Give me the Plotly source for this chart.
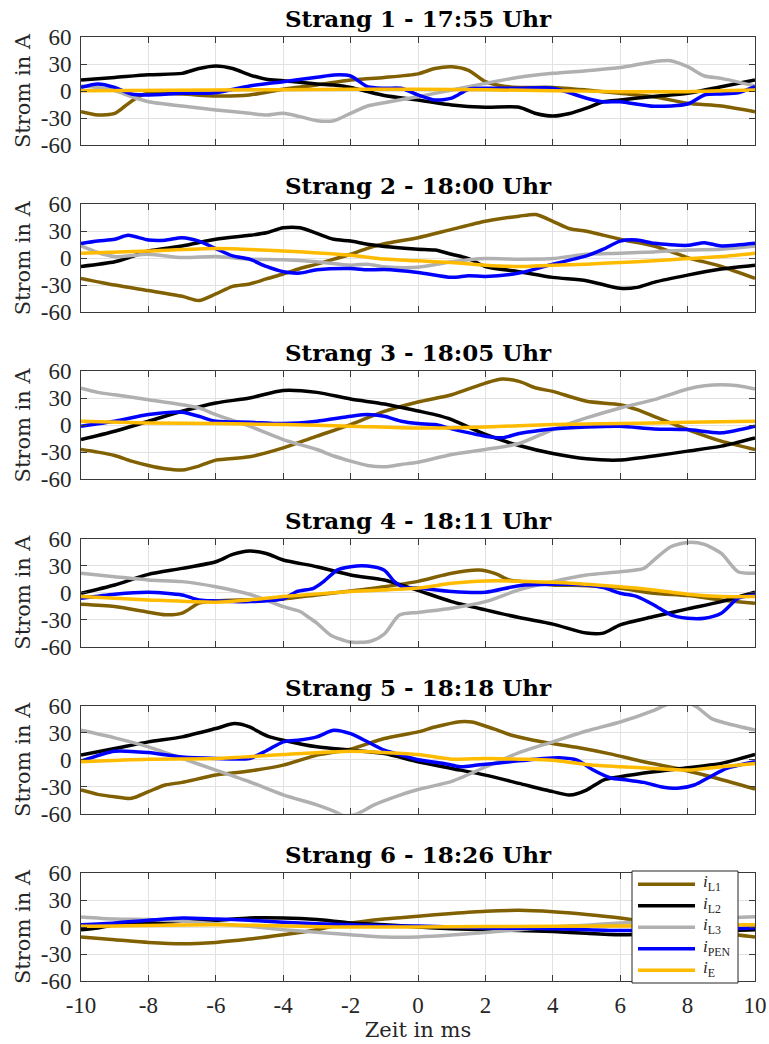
import plotly.graph_objects as go
from plotly.subplots import make_subplots

# Strang currents, samples as (time in ms, current in A)
S1_L1 = [(-10, -23), (-9.5, -26.7), (-9, -24.8), (-8.7, -17), (-8.3, -6.3), (-8, -2.6), (-7, -3.3),
         (-6, -5.6), (-5, -4.4), (-4, 1.9), (-3, 6.7), (-2, 12.2), (-1, 15), (0, 19), (0.5, 25),
         (1, 27), (1.5, 23), (2, 10.4), (2.5, 5.6), (3, 4), (4, 4), (5, 1.1), (6, -2.6), (7, -6.3),
         (8, -13.7), (9, -16.7), (10, -23)]
S1_L2 = [(-10, 12.2), (-9, 15), (-8, 18), (-7, 19.6), (-6.5, 25), (-6, 27.8), (-5.5, 25), (-5, 18),
         (-4.5, 13), (-4, 11.5), (-3, 7.8), (-2.5, 6.7), (-2, 4), (-1.5, -0.7), (-1, -5), (0, -10),
         (1, -15.5), (2, -18), (3, -18), (3.5, -25), (4, -27.8), (4.5, -25), (5, -19), (5.5, -12),
         (6, -10), (7, -6), (8, -2.6), (9, 4.8), (10, 12.2)]
S1_L3 = [(-10, 5.6), (-9.5, 4), (-9, 0.4), (-8.5, -6.3), (-8, -11.9), (-7, -16.7), (-6, -21), (-5, -24.8),
         (-4.5, -26.7), (-4, -24.8), (-3.5, -28.5), (-3, -33), (-2.5, -33), (-2, -24.8), (-1.5, -16.7),
         (-1, -13), (0, -6.3), (1, 1.1), (2, 8.5), (3, 15.2), (4, 19.6), (5, 22.6), (6, 26), (7, 32.6),
         (7.5, 33.7), (8, 27), (8.5, 16.7), (9, 14), (10, 5.6)]
S1_PEN = [(-10, 4), (-9.5, 7.8), (-9, 4), (-8.5, -3.3), (-8, -4.4), (-7, -2.6), (-6, -1.9), (-5, 5.6),
          (-4, 10.4), (-3, 15.2), (-2.5, 17.8), (-2, 16.7), (-1.5, 4.8), (-1, 3), (-0.5, 3), (0, -4.4),
          (0.5, -10), (1, -8), (1.5, 1.9), (2, 3), (3, 3), (4, 3), (5, -8), (5.5, -12), (6, -12),
          (7, -17), (8, -14.4), (8.5, -4.4), (9, -3.3), (9.5, -1.9), (10, 4.8)]
S1_E = [(-10, 0.4), (-6, 1), (-2, 2), (0, 2), (4, 0.4), (6, -0.7), (8, -0.7), (10, 1)]

S2_L1 = [(-10, -22.4), (-9, -29.8), (-8, -36), (-7, -42.3), (-6.5, -47), (-6, -39.7), (-5.5, -31.3),
         (-5, -28.7), (-4.5, -23), (-4, -17.6), (-3.5, -11.4), (-3, -6.6), (-2.5, -1.1), (-2, 4.4),
         (-1.5, 11), (-1, 16), (0, 22.8), (1, 32), (2, 41), (3, 46.7), (3.5, 48.5), (4, 41), (4.5, 32.7),
         (5, 30), (6, 21), (7, 13.6), (8, 0.7), (9, -9.2), (10, -22.4)]
S2_L2 = [(-10, -9.2), (-9, -4), (-8.5, 1.8), (-8, 8), (-7, 13.6), (-6, 21), (-5, 25.4), (-4.5, 28.3),
         (-4, 33.8), (-3.5, 33.8), (-3, 27.6), (-2.5, 21), (-2, 19), (-1.5, 15.4), (-1, 13), (0, 10),
         (0.5, 9), (1, 4.4), (1.5, -0.4), (2, -9.2), (3, -15), (4, -21.3), (5, -25), (6, -33.5),
         (6.5, -32.4), (7, -26.8), (8, -18.8), (9, -12), (10, -7.7)]
S2_L3 = [(-10, 13.6), (-9.5, 6.3), (-9, 1.8), (-8, 4.4), (-7, 0.7), (-6, 1.8), (-5, -1.1), (-4, -1.8),
         (-3, -4), (-2, -7.7), (-1.5, -6.6), (-1, -9.5), (0, -10), (1, -4), (2, -0.4), (3, -1.1),
         (4, -0.4), (5, 4.4), (6, 5.5), (7, 7), (8, 9.2), (9, 10), (10, 13.6)]
S2_PEN = [(-10, 16.2), (-9.5, 19), (-9, 21), (-8.6, 25.4), (-8, 20.2), (-7.5, 20), (-7, 22.8), (-6.5, 19),
          (-6, 10.7), (-5.5, 2.6), (-5, -1.1), (-4.5, -9.2), (-4, -15), (-3.5, -16.5), (-3, -12.9),
          (-2, -11.4), (-1.5, -12.9), (-1, -12.5), (0, -15.8), (1, -21.3), (1.5, -19.5), (2, -20.2),
          (3, -16.5), (4, -6.6), (5, 2.6), (5.5, 10), (6, 19), (6.5, 20.2), (7, 16.5), (8, 14.3),
          (8.5, 17.3), (9, 13.6), (10, 16.5)]
S2_E = [(-10, 5.5), (-8, 8), (-6, 10.7), (-4, 8), (-2, 3.3), (-1, -1), (0, -2.9), (1, -4.8), (2, -7.7),
        (3, -9.2), (4, -7.7), (5, -6.6), (6, -4.8), (7, -2.9), (8, -0.4), (9, 1.8), (10, 5.5)]

S3_L1 = [(-10, -26.8), (-9.5, -29.7), (-9, -33.4), (-8.5, -39.7), (-8, -44.5), (-7.5, -48.2), (-7, -49.6),
         (-6.5, -45.2), (-6, -38.6), (-5, -34.9), (-4, -24.9), (-3, -12), (-2, 0.9), (-1, 15.5), (0, 26),
         (1, 34.1), (2, 47), (2.5, 51.5), (3, 48.9), (3.5, 41.5), (4, 37.8), (5, 26.8), (6, 23),
         (6.5, 17.5), (7, 10), (8, -4.6), (9, -17.5), (10, -26.8)]
S3_L2 = [(-10, -15.7), (-9, -6.5), (-8, 4.6), (-7, 15.7), (-6, 24.9), (-5, 30.4), (-4, 38.9), (-3, 36.7),
         (-2, 29.3), (-1, 23.8), (0, 16), (0.5, 12), (1, 6.5), (2, -10.1), (3, -22.3), (4, -31.2),
         (5, -37.1), (6, -38.5), (7, -34), (8, -28.6), (9, -23), (10, -13.8)]
S3_L3 = [(-10, 41.3), (-9.5, 36.7), (-9, 34), (-8, 28.6), (-7, 23), (-6.5, 19.4), (-6, 12), (-5, -0.9),
         (-4, -15.7), (-3, -26.8), (-2.5, -34), (-2, -39.7), (-1.5, -44.5), (-1, -46), (-0.5, -43.4),
         (0, -41), (1, -32.3), (2, -26.8), (3, -20.1), (4, -4.6), (5, 8.3), (6, 19.4), (7, 28.6),
         (8, 40.4), (8.5, 44), (9, 45.2), (9.5, 44), (10, 40.4)]
S3_PEN = [(-10, -0.9), (-9, 4.6), (-8, 12), (-7, 14.6), (-6.5, 10.1), (-6, 4.6), (-5, 3.5), (-4, 2),
          (-3, 4.6), (-2, 10.1), (-1.5, 12), (-1, 10.1), (-0.5, 4.6), (0, 2), (0.5, 0.9), (1, -3.9),
          (2, -12), (2.5, -13.8), (3, -9), (4, -3.9), (5, -1.7), (6, -0.9), (7, -3.9), (8, -4.6),
          (9, -8.3), (10, -0.9)]
S3_E = [(-10, 4.6), (-8, 2.8), (-6, 2), (-4, 0.9), (-2, -0.9), (0, -3), (2, -1.7), (4, 0.9), (6, 2),
        (8, 3.5), (10, 4.6)]

S4_L1 = [(-10, -12.9), (-9, -15.5), (-8, -21.8), (-7.5, -24.7), (-7, -22.9), (-6.5, -11.8), (-6, -9.2),
         (-5, -8.1), (-4, -7), (-3, -2.6), (-2, 1.8), (-1, 6.6), (0, 12.5), (1, 21.4), (1.8, 25),
         (2.3, 21), (2.7, 14), (3, 12.5), (4, 8.5), (5, 7.7), (6, 4.8), (7, -0.7), (8, -3.3), (9, -8.1),
         (10, -11.8)]
S4_L2 = [(-10, -0.7), (-9, 8.5), (-8, 20.3), (-7, 26.9), (-6, 34.3), (-5.5, 42.4), (-5, 46.1),
         (-4.5, 43.5), (-4, 36.2), (-3, 28.8), (-2, 19.6), (-1, 14), (-0.5, 8.5), (0, 2.5), (1, -10),
         (2, -19.2), (3, -27.7), (4, -35), (5, -45), (5.5, -45), (6, -35.8), (7, -26.6), (8, -18.1),
         (9, -10), (10, 0.4)]
S4_L3 = [(-10, 21.4), (-9, 17.7), (-8, 14), (-7, 12.2), (-6, 6.6), (-5, -1.8), (-4, -15.5), (-3.5, -21),
         (-3.3, -26), (-3, -34), (-2.6, -47), (-2, -55), (-1.4, -54), (-1, -46), (-0.55, -25), (0, -22),
         (1, -17.3), (2, -10), (3, 3), (4, 12.2), (5, 19.6), (6, 23.2), (6.7, 27), (7, 36.2), (7.5, 51),
         (8, 55.7), (8.5, 53.5), (9, 43.5), (9.5, 23.2), (10, 21.4)]
S4_PEN = [(-10, -6.3), (-9, -1.8), (-8, 0.4), (-7, -2.6), (-6.5, -8.1), (-6, -9.2), (-5, -10), (-4, -7),
          (-3.6, 1.1), (-3.1, 4.8), (-2.8, 12.2), (-2.4, 25), (-2, 28.8), (-1.5, 29.5), (-1, 24.9),
          (-0.7, 12.2), (-0.4, 5.5), (0, 5), (1, 1.1), (2, 0.4), (3, 7.7), (4, 9.2), (5, 8.5), (5.5, 5.5),
          (6, -0.7), (6.5, -4.4), (7, -13.7), (7.5, -24.7), (8, -28.4), (8.5, -28.4), (9, -22.9),
          (9.5, -6.3), (10, -2.6)]
S4_E = [(-10, -4.4), (-8, -8.1), (-6, -10.7), (-5, -8.1), (-4, -4.4), (-2, 1.1), (0, 5), (1, 10.3),
        (2, 13), (4, 11.4), (5, 9.2), (6, 6.6), (7, 3), (8, -1.8), (9, -4.4), (10, -4.4)]

S5_L1 = [(-10, -33.6), (-9.5, -38.4), (-9, -41), (-8.5, -42.8), (-8, -35.4), (-7.5, -28), (-7, -25.1),
         (-6, -17), (-5, -12.5), (-4, -5.9), (-3, 5.2), (-2, 11.8), (-1, 23.6), (0, 31), (0.5, 36.5),
         (1.25, 42.4), (1.6, 42), (2.25, 34.3), (2.75, 27.6), (3.75, 19.5), (4.7, 14), (5.7, 6.6),
         (6.7, -2.2), (7.7, -9.6), (8.7, -18.8), (10, -32.5)]
S5_L2 = [(-10, 5.2), (-9, 12.5), (-8, 19.9), (-7, 25.5), (-6, 34.7), (-5.45, 40.2), (-5, 36.5),
         (-4.67, 30), (-4.4, 25.5), (-4, 21.8), (-3, 14.4), (-2, 10.7), (-1, 7), (0, -2.2), (1, -9.6),
         (2, -17), (3, -26.2), (4, -35.4), (4.5, -39.1), (5, -33.6), (5.5, -22.5), (6, -18.8), (7, -13.3),
         (8, -8.9), (9, -4), (10, 5.9)]
S5_L3 = [(-10, 32.8), (-9, 24.4), (-8, 14.4), (-7, 1.5), (-6, -11.4), (-5, -24.4), (-4, -39), (-3, -50),
         (-2.5, -57), (-2.2, -62), (-1.8, -60), (-1.3, -50), (-0.6, -40), (0, -33), (1, -24), (2, -8),
         (3, 8), (4, 20), (5, 32), (6, 42), (7, 55), (7.5, 63), (8, 64), (8.3, 58), (8.7, 46),
         (9.2, 40), (10, 33)]
S5_PEN = [(-10, -1.5), (-9, 9.6), (-8, 8), (-7, 3), (-6, 1.5), (-5, 1.5), (-4.5, 10), (-4, 20),
          (-3.5, 22), (-3, 25.5), (-2.5, 32.8), (-2, 29), (-1.5, 20), (-1, 10.7), (-0.5, 5.2), (0, 0),
          (0.77, -4), (1.26, -7.7), (1.76, -5.9), (2.74, -2.2), (3.73, 1.5), (4.2, 2.2), (4.72, -0.4),
          (5.2, -11.4), (5.7, -19.9), (6.2, -22.5), (6.7, -25.1), (7.2, -29.9), (7.7, -31.7), (8.2, -28),
          (8.67, -18.8), (9.16, -9.6), (10, -2.2)]
S5_E = [(-10, -2.2), (-8, 0.7), (-6, 1.5), (-4, 5.9), (-2, 9.6), (-1, 8.1), (0, 5.9), (1, 0.7), (2, 1.5),
        (3, 0.7), (4, -0.4), (5, -5.2), (6, -7.7), (7, -9.6), (8, -11.4), (9, -7.7), (10, -4)]

S6_L1 = [(-10, -11.2), (-9, -14.1), (-8, -17.1), (-7, -18.6), (-6, -17.1), (-5, -13.4), (-4, -8.6),
         (-3, -3), (-2, 4.5), (-1, 9), (0, 12), (1, 15), (2, 17.5), (3, 18.5), (4, 17), (5, 14), (6, 10),
         (7, 4), (8, -2), (9, -7), (10, -11)]
S6_L2 = [(-10, -3), (-9.5, -1.1), (-9, 2.6), (-8, 4.5), (-7, 6.3), (-6, 7.4), (-5, 10), (-4, 10),
         (-3, 8.2), (-2, 4.5), (-1, 2.6), (0, 0), (1, -2), (2, -3), (3, -4), (4, -5), (5, -7), (6, -8.5),
         (7, -8), (8, -6), (9, -4), (10, -3)]
S6_L3 = [(-10, 11.2), (-9, 8.9), (-8, 8.2), (-7, 6.3), (-6, 3.7), (-5, 0.7), (-4, -3), (-3, -5.9),
         (-2, -8.6), (-1, -11), (0, -11), (1, -9), (2, -6), (3, -3), (4, 0), (5, 2), (6, 4.5), (7, 6),
         (8, 8), (9, 10), (10, 11.5)]
S6_PEN = [(-10, 2.6), (-9, 4.5), (-8, 7.4), (-7, 10), (-6, 8.9), (-5, 7.4), (-4, 5.2), (-3, 3.7),
          (-2, 2.6), (-1, 1.5), (0, 1), (2, -1), (4, -2), (6, -4), (8, -3), (10, -1)]
S6_E = [(-10, 0.7), (-6, 2.6), (-2, 0), (2, 0.5), (6, 1), (10, 2.6)]

PANEL_TITLES = ["Strang 1 - 17:55 Uhr", "Strang 2 - 18:00 Uhr", "Strang 3 - 18:05 Uhr",
                "Strang 4 - 18:11 Uhr", "Strang 5 - 18:18 Uhr", "Strang 6 - 18:26 Uhr"]
SERIES_NAMES = ["<i>i</i><sub>L1</sub>", "<i>i</i><sub>L2</sub>", "<i>i</i><sub>L3</sub>",
                "<i>i</i><sub>PEN</sub>", "<i>i</i><sub>E</sub>"]
SERIES_COLORS = ["#806000", "#000000", "#b0b0b0", "#0000ff", "#ffbb00"]
X_TICKS = [-10, -8, -6, -4, -2, 0, 2, 4, 6, 8, 10]
X_TICK_TEXT = ["-10", "-8", "-6", "-4", "-2", "0", "2", "4", "6", "8", "10"]
Y_TICKS = [-60, -30, 0, 30, 60]
Y_TICK_TEXT = ["-60", "-30", "0", "30", "60"]

PANELS = [
    [S1_L1, S1_L2, S1_L3, S1_PEN, S1_E],
    [S2_L1, S2_L2, S2_L3, S2_PEN, S2_E],
    [S3_L1, S3_L2, S3_L3, S3_PEN, S3_E],
    [S4_L1, S4_L2, S4_L3, S4_PEN, S4_E],
    [S5_L1, S5_L2, S5_L3, S5_PEN, S5_E],
    [S6_L1, S6_L2, S6_L3, S6_PEN, S6_E],
]

W, H = 769, 1044
M_L, M_R, M_T, M_B = 81, 14, 37, 63
GAP_PX = 59.2
plot_h = H - M_T - M_B
plot_w = W - M_L - M_R


def px_x(px):
    """Horizontal pixel position -> paper coordinate."""
    return (px - M_L) / plot_w


def px_y(py):
    """Vertical pixel position (from top) -> paper coordinate."""
    return (H - M_B - py) / plot_h


fig = make_subplots(rows=6, cols=1, vertical_spacing=GAP_PX / plot_h)

AXIS_COLOR = "#3a3a3a"
GRID_COLOR = "#e2e2e2"
TICK_FONT = dict(family="Liberation Serif", size=23, color="#262626")
LABEL_FONT = dict(family="DejaVu Serif", size=21, color="#262626")
LINE_W = 3.5

for r, series in enumerate(PANELS, start=1):
    for k, pts in enumerate(series):
        fig.add_trace(
            go.Scatter(
                x=[p[0] for p in pts],
                y=[p[1] for p in pts],
                mode="lines",
                line=dict(color=SERIES_COLORS[k], width=LINE_W, shape="spline", smoothing=0.7),
                name=SERIES_NAMES[k],
                showlegend=False,
            ),
            row=r, col=1,
        )
    fig.update_xaxes(
        row=r, col=1, range=[-10, 10], tickvals=X_TICKS, ticktext=X_TICK_TEXT,
        ticks="inside", ticklen=6, automargin=False,
        tickcolor=AXIS_COLOR, showline=True, linecolor=AXIS_COLOR, linewidth=1, mirror="ticks",
        showgrid=True, gridcolor=GRID_COLOR, gridwidth=1, zeroline=False,
        showticklabels=(r == 6), tickfont=TICK_FONT, ticklabelstandoff=3,
    )
    fig.update_yaxes(
        row=r, col=1, range=[-60, 60], tickvals=Y_TICKS, ticktext=Y_TICK_TEXT,
        ticks="inside", ticklen=6, automargin=False,
        tickcolor=AXIS_COLOR, showline=True, linecolor=AXIS_COLOR, linewidth=1, mirror="ticks",
        showgrid=True, gridcolor=GRID_COLOR, gridwidth=1, zeroline=False,
        tickfont=TICK_FONT, ticklabelstandoff=4,
        title=dict(text="Strom in A", font=LABEL_FONT, standoff=4),
    )

fig.update_xaxes(row=6, col=1, title=dict(text="Zeit in ms", font=LABEL_FONT, standoff=2))

# panel headings above each axes box
for r, title in enumerate(PANEL_TITLES, start=1):
    dom = fig.layout["yaxis" + ("" if r == 1 else str(r))].domain
    fig.add_annotation(
        text=title, xref="paper", yref="paper", x=0.5, y=dom[1],
        xanchor="center", yanchor="bottom", yshift=3, showarrow=False,
        font=dict(family="DejaVu Serif", size=23, color="#000000", weight="bold"),
    )

# legend box inside the last panel: frame, line samples and labels
LEG_LEFT, LEG_RIGHT, LEG_TOP, LEG_BOTTOM = 632, 738, 871, 983
LEG_ROW0, LEG_ROW_STEP = 884.3, 21.5
LEG_LINE_X0, LEG_LINE_X1, LEG_TEXT_X = 638, 695, 701

fig.add_shape(
    type="rect", xref="paper", yref="paper", layer="above",
    x0=px_x(LEG_LEFT), x1=px_x(LEG_RIGHT), y0=px_y(LEG_BOTTOM), y1=px_y(LEG_TOP),
    fillcolor="white", line=dict(color="#262626", width=1),
)
for k, name in enumerate(SERIES_NAMES):
    yy = px_y(LEG_ROW0 + k * LEG_ROW_STEP)
    fig.add_shape(
        type="line", xref="paper", yref="paper", layer="above",
        x0=px_x(LEG_LINE_X0), x1=px_x(LEG_LINE_X1), y0=yy, y1=yy,
        line=dict(color=SERIES_COLORS[k], width=3.5),
    )
    fig.add_annotation(
        text=name, xref="paper", yref="paper", x=px_x(LEG_TEXT_X), y=yy,
        xanchor="left", yanchor="middle", yshift=1, showarrow=False,
        font=dict(family="Liberation Serif", size=17, color="#262626"),
    )

fig.update_layout(
    width=W, height=H,
    margin=dict(l=M_L, r=M_R, t=M_T, b=M_B, autoexpand=False),
    plot_bgcolor="white", paper_bgcolor="white",
    showlegend=False,
)

fig.write_html("out.html")
